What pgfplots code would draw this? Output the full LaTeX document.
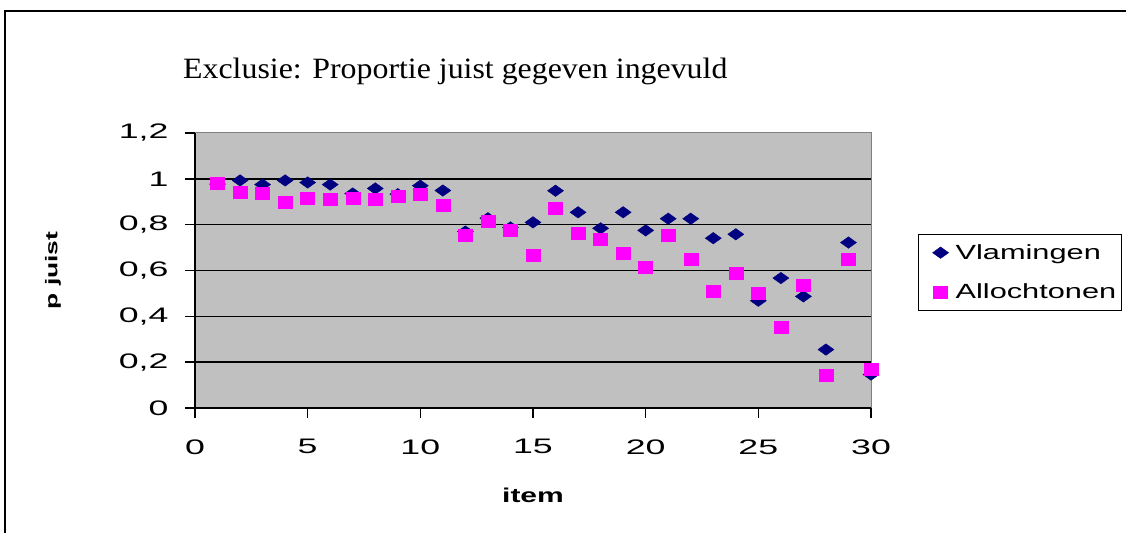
\documentclass[border=0pt]{standalone}
\usepackage{fontspec}
\setmainfont{Liberation Sans}[FakeStretch=1.5]
\newfontfamily\titlefont{Liberation Serif}[FakeStretch=1.08]
\newfontfamily\ylabfont{Liberation Sans}[FakeStretch=1.55]
\newfontfamily\tickfont{Liberation Sans}[FakeStretch=1.7]
\usepackage{pgfplots}
\pgfplotsset{compat=1.18}
\definecolor{vlam}{HTML}{000080}
\definecolor{alloc}{HTML}{FF00FF}
\definecolor{plotbg}{HTML}{C0C0C0}
\definecolor{border}{HTML}{808080}

\begin{document}
\begin{tikzpicture}[x=1pt,y=1pt]
\useasboundingbox (0,0) rectangle (1126,533);
\fill[white] (0,0) rectangle (1126,533);
\draw[line width=2pt] (5,0) -- (5,522) -- (1126,522);
\node[anchor=base west, inner sep=0pt, font=\titlefont\fontsize{29.5}{34}\selectfont] at (183,454) {Exclusie: Proportie juist gegeven ingevuld};
\begin{axis}[
  at={(195pt,125pt)}, anchor=south west,
  scale only axis, width=676pt, height=275pt,
  xmin=0, xmax=30, ymin=0, ymax=1.2,
  xtick={0,5,...,30},
  ytick={0,0.2,0.4,0.6,0.8,1.0},
  extra y ticks={1.2},
  extra y tick style={grid=none},
  ymajorgrids,
  grid style={black, line width=1.6pt},
  axis x line*=bottom, axis y line*=left,
  axis line style={-, black, line width=1.5pt},
  axis background/.style={fill=plotbg, draw=border, line width=1pt},
  tick align=outside,
  major tick length=10pt,
  tick style={black, line width=1.4pt},
  /pgf/number format/use comma,
  /pgf/number format/assume math mode=true,
  tick label style={font=\tickfont\fontsize{21}{25}\selectfont},
  yticklabel style={xshift=-13pt},
  xticklabel style={yshift=-18pt},
  xlabel={item},
  xlabel style={at={(axis description cs:0.5,-0.316)}, anchor=center, font=\bfseries\fontsize{20}{24}\selectfont},
  ylabel={p juist},
  ylabel style={at={(axis description cs:-0.21,0.5)}, anchor=center, font=\ylabfont\bfseries\fontsize{17}{20}\selectfont},
  legend style={at={(axis description cs:1.0695,0.633)}, anchor=north west, draw=black, line width=1.2pt,
    font=\fontsize{20.5}{25}\selectfont, row sep=19pt, inner xsep=3pt, inner ysep=8pt, cells={anchor=west}},
  legend image code/.code={\path[draw=none, fill=none] (0pt,-5pt) rectangle (32pt,5pt);
    \draw[mark repeat=2,mark phase=2,#1] plot coordinates {(0pt,0pt)(19pt,0pt)(32pt,0pt)};},
]
\addplot[only marks, mark=diamond*, mark size=5.75pt,
  mark options={fill=vlam, draw=vlam, line width=0.4pt, xscale=1.86}] coordinates {
  (1,0.977) (2,0.993) (3,0.975) (4,0.993) (5,0.984) (6,0.975) (7,0.936) (8,0.958)
  (9,0.933) (10,0.970) (11,0.949) (12,0.770) (13,0.828) (14,0.788) (15,0.810)
  (16,0.948) (17,0.854) (18,0.784) (19,0.854) (20,0.775) (21,0.826) (22,0.826)
  (23,0.741) (24,0.758) (25,0.468) (26,0.567) (27,0.487) (28,0.255) (29,0.722) (30,0.146)
};
\addlegendentry{Vlamingen}
\addplot[only marks, mark=square*, mark size=6pt,
  mark options={fill=alloc, draw=alloc, line width=0.4pt, xscale=1.17}] coordinates {
  (1,0.980) (2,0.943) (3,0.936) (4,0.900) (5,0.917) (6,0.910) (7,0.917) (8,0.909)
  (9,0.926) (10,0.935) (11,0.883) (12,0.752) (13,0.813) (14,0.778) (15,0.665)
  (16,0.874) (17,0.762) (18,0.736) (19,0.675) (20,0.614) (21,0.752) (22,0.648)
  (23,0.509) (24,0.587) (25,0.501) (26,0.354) (27,0.535) (28,0.145) (29,0.649) (30,0.171)
};
\addlegendentry{Allochtonen}
\end{axis}
\end{tikzpicture}
\end{document}
